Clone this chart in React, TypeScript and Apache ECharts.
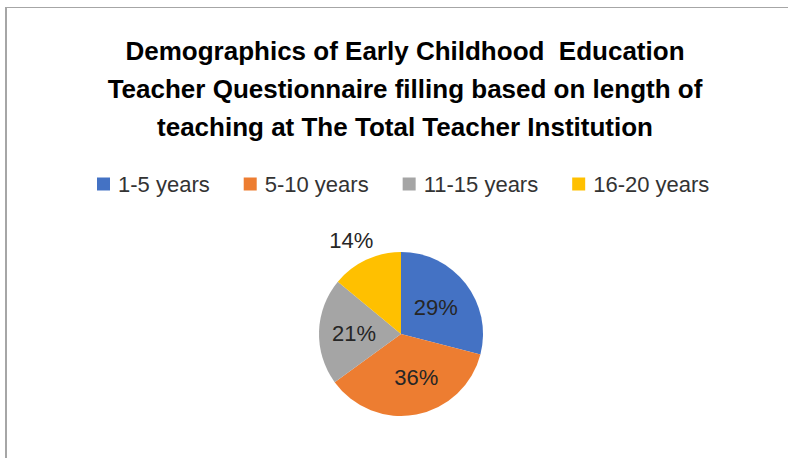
import React, { useEffect, useRef } from "react";
import * as echarts from "echarts";

const titleLines = [
  "Demographics of Early Childhood  Education",
  "Teacher Questionnaire filling based on length of",
  "teaching at The Total Teacher Institution",
];
const categories = ["1-5 years", "5-10 years", "11-15 years", "16-20 years"];
const values = [29, 36, 21, 14];
const colors = ["#4472C4", "#ED7D31", "#A5A5A5", "#FFC000"];

export default function App() {
  const ref = useRef<HTMLDivElement>(null);
  useEffect(() => {
    if (!ref.current) return;
    const chart = echarts.init(ref.current, null, { renderer: "svg" });
    const font = "'Liberation Sans', Arial, sans-serif";
    chart.setOption({
      animation: false,
      backgroundColor: "#ffffff",
      title: {
        text: titleLines.join("\n"),
        left: 400,
        textAlign: "center",
        top: 27,
        textStyle: {
          fontFamily: font,
          fontSize: 26,
          fontWeight: "bold",
          color: "#000000",
          lineHeight: 38,
        },
      },
      legend: {
        data: categories,
        top: 168,
        left: 92,
        itemWidth: 13,
        itemHeight: 13,
        itemGap: 34,
        icon: "rect",
        textStyle: { fontFamily: font, fontSize: 22, color: "#333333", padding: [0, 0, 0, 3] },
      },
      series: [
        {
          type: "pie",
          center: [401, 334],
          radius: 82,
          startAngle: 90,
          clockwise: true,
          silent: true,
          data: categories.map((c, i) => ({
            name: c,
            value: values[i],
            itemStyle: { color: colors[i] },
            label:
              i === 3
                ? { position: "outside" }
                : { position: "inside" },
            labelLine: { show: false, length: 16, length2: 0 },
          })),
          label: {
            formatter: (p: any) => `${p.value}%`,
            fontFamily: font,
            fontSize: 22,
            color: "#262626",
          },
          labelLine: { show: false },
          labelLayout: (p: any) =>
            p.dataIndex === 3
              ? { dx: 19, dy: -5 }
              : p.dataIndex === 1
              ? { dx: 7 }
              : p.dataIndex === 2
              ? { dx: -3, dy: 1 }
              : {},
        },
      ],
    });
    return () => chart.dispose();
  }, []);
  return (
    <div style={{ position: "absolute", left: 0, top: 0, width: 788, height: 458, background: "#fff" }}>
      <div ref={ref} style={{ position: "absolute", left: 0, top: 0, width: 788, height: 458 }} />
      <div
        style={{
          position: "absolute",
          left: 5,
          top: 7,
          width: 783,
          height: 451,
          borderLeft: "2px solid #a6a6a6",
          borderTop: "1px solid #a6a6a6",
          pointerEvents: "none",
        }}
      />
    </div>
  );
}
